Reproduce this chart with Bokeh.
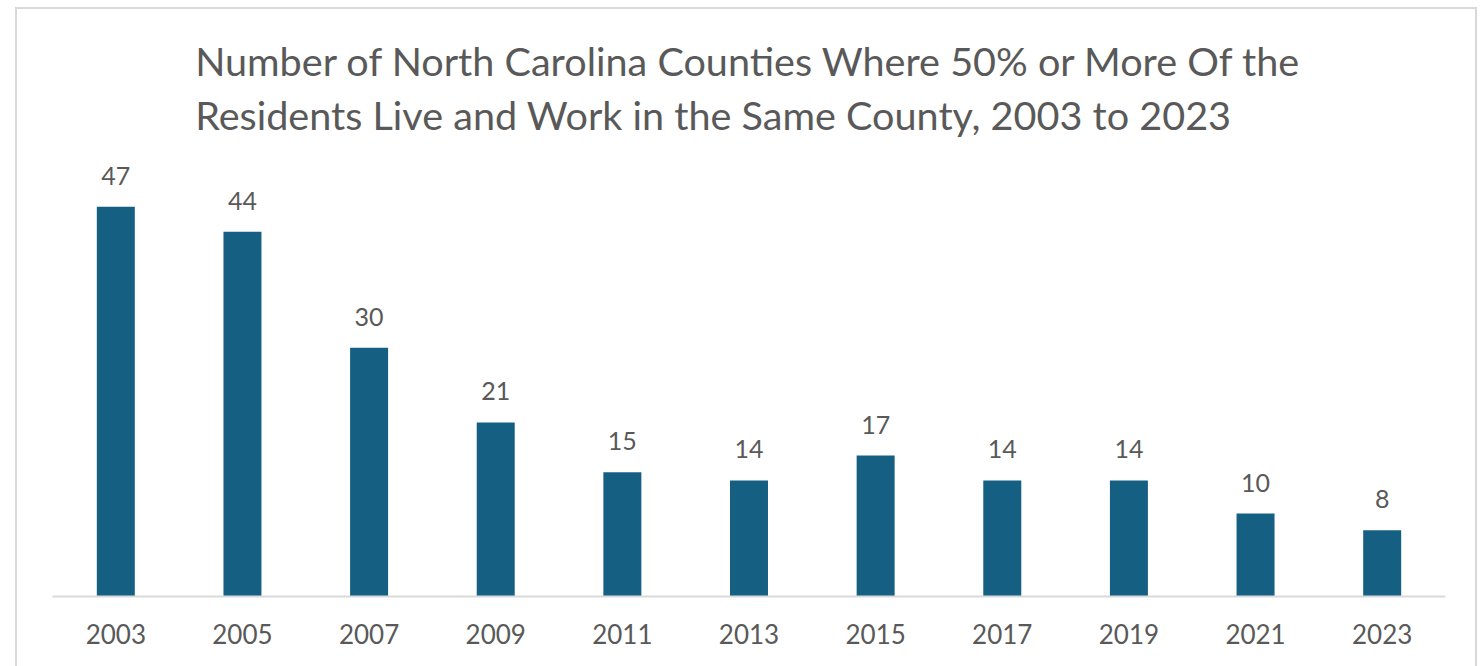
from bokeh.plotting import figure
from bokeh.models import ColumnDataSource, LabelSet, FactorRange, Range1d, Spacer
from bokeh.layouts import row, column
from bokeh.core.properties import value
from bokeh.embed import file_html
from bokeh.resources import INLINE

years = ["2003", "2005", "2007", "2009", "2011", "2013", "2015", "2017", "2019", "2021", "2023"]
counties = [47, 44, 30, 21, 15, 14, 17, 14, 14, 10, 8]
labels = [str(v) for v in counties]

title_text = ("Number of North Carolina Counties Where 50% or More Of the\n"
              "Residents Live and Work in the Same County, 2003 to 2023")

TEXT = "#595959"
BAR = "#156082"
FONT = "Lato"

src = ColumnDataSource(dict(x=years, y=counties, lab=labels))

p = figure(x_range=FactorRange(*years, range_padding=0), y_range=Range1d(0, 53.8),
           width=1462, height=659, output_backend="svg", toolbar_location=None,
           min_border_left=35, min_border_right=34, min_border_bottom=72, min_border_top=141)
p.styles = {"border-top": "2px solid #d9d9d9",
            "border-left": "2px solid #d9d9d9",
            "border-right": "2px solid #d9d9d9",
            "box-sizing": "border-box"}

p.title.text = title_text
p.title.align = "center"
p.title.text_font = FONT
p.title.text_font_size = "39.6px"
p.title.text_font_style = "normal"
p.title.text_color = TEXT
p.title.text_line_height = 1.16
p.title.standoff = 24

p.vbar(x="x", top="y", width=0.30, source=src, color=BAR, line_color=None)

p.add_layout(LabelSet(x="x", y="y", text="lab", source=src, text_align="center",
                      text_baseline="alphabetic", y_offset=22, text_font=value(FONT),
                      text_font_size="25px", text_color=TEXT))

p.yaxis.visible = False
p.xgrid.visible = False
p.ygrid.visible = False
p.outline_line_color = None

ax = p.xaxis[0]
ax.axis_line_color = "#d9d9d9"
ax.axis_line_width = 2
ax.major_tick_line_color = None
ax.minor_tick_line_color = None
ax.major_label_standoff = 21
ax.major_label_text_font = FONT
ax.major_label_text_font_size = "26px"
ax.major_label_text_color = TEXT

layout = column(Spacer(width=1477, height=7),
                row(Spacer(width=15, height=659), p))

open("out.html", "w").write(file_html(layout, INLINE))
